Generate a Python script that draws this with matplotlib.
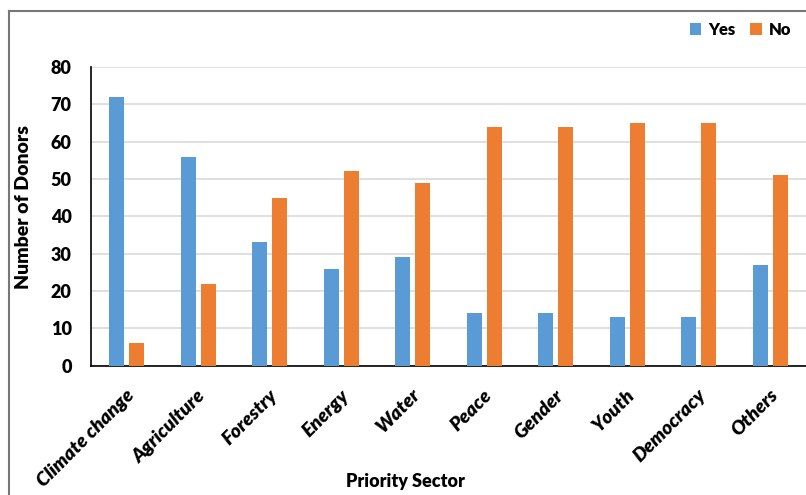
import matplotlib.pyplot as plt
import numpy as np
from matplotlib.lines import Line2D
from matplotlib.transforms import ScaledTranslation

sectors = ['Climate change', 'Agriculture', 'Forestry', 'Energy', 'Water',
           'Peace', 'Gender', 'Youth', 'Democracy', 'Others']
yes_counts = [72, 56, 33, 26, 29, 14, 14, 13, 13, 27]
no_counts = [6, 22, 45, 52, 49, 64, 64, 65, 65, 51]

blue = '#5B9BD5'
orange = '#ED7D31'

plt.rcParams['font.family'] = ['Lato', 'DejaVu Sans']

fig = plt.figure(figsize=(8.06, 4.95), dpi=100)
ax = fig.add_axes([0.113, 0.261, 0.887, 0.604])

x = np.arange(len(sectors))
w = 0.21
ax.bar(x - 0.14, yes_counts, width=w, color=blue, label='Yes', zorder=3)
ax.bar(x + 0.14, no_counts, width=w, color=orange, label='No', zorder=3)

ax.set_xlim(-0.5, len(sectors) - 0.5)
ax.set_ylim(0, 80)
ax.set_yticks(range(0, 81, 10))
ax.yaxis.grid(True, color='#D9D9D9', linewidth=1.2, zorder=0)
ax.set_axisbelow(True)

for s in ['top', 'right']:
    ax.spines[s].set_visible(False)
ax.spines['left'].set_linewidth(1.2)
ax.spines['bottom'].set_linewidth(1.2)
ax.tick_params(axis='both', length=0)
ax.tick_params(axis='y', pad=14)
ax.tick_params(axis='x', pad=15)

ax.set_xticks(x)
ax.set_xticklabels(sectors, rotation=45, ha='right', rotation_mode='anchor',
                   fontsize=14, fontweight='heavy', fontstyle='italic')
shift = ScaledTranslation(-1 / 72, 0, fig.dpi_scale_trans)
for lbl in ax.get_xticklabels():
    lbl.set_transform(lbl.get_transform() + shift)
for lbl in ax.get_yticklabels():
    lbl.set_fontsize(13)
    lbl.set_fontweight('heavy')

ax.set_ylabel('Number of Donors', fontsize=14, fontweight='heavy')
ax.yaxis.set_label_coords(-0.082, 0.53)
ax.set_xlabel('Priority Sector', fontsize=13, fontweight='heavy')
ax.xaxis.set_label_coords(0.44, -0.36)

ax.legend(loc='upper right', bbox_to_anchor=(1.0, 1.20), ncol=2, frameon=False,
          prop={'weight': 'heavy', 'size': 12}, handlelength=0.7, handleheight=0.7,
          handletextpad=0.4, columnspacing=0.9)

# outer frame (top and left edges)
fig.add_artist(Line2D([9 / 806, 9 / 806], [0, 1 - 11 / 495], color='#777777', lw=1.5))
fig.add_artist(Line2D([9 / 806, 1], [1 - 11 / 495, 1 - 11 / 495], color='#777777', lw=1.5))

fig.savefig('out.png', dpi=100)
